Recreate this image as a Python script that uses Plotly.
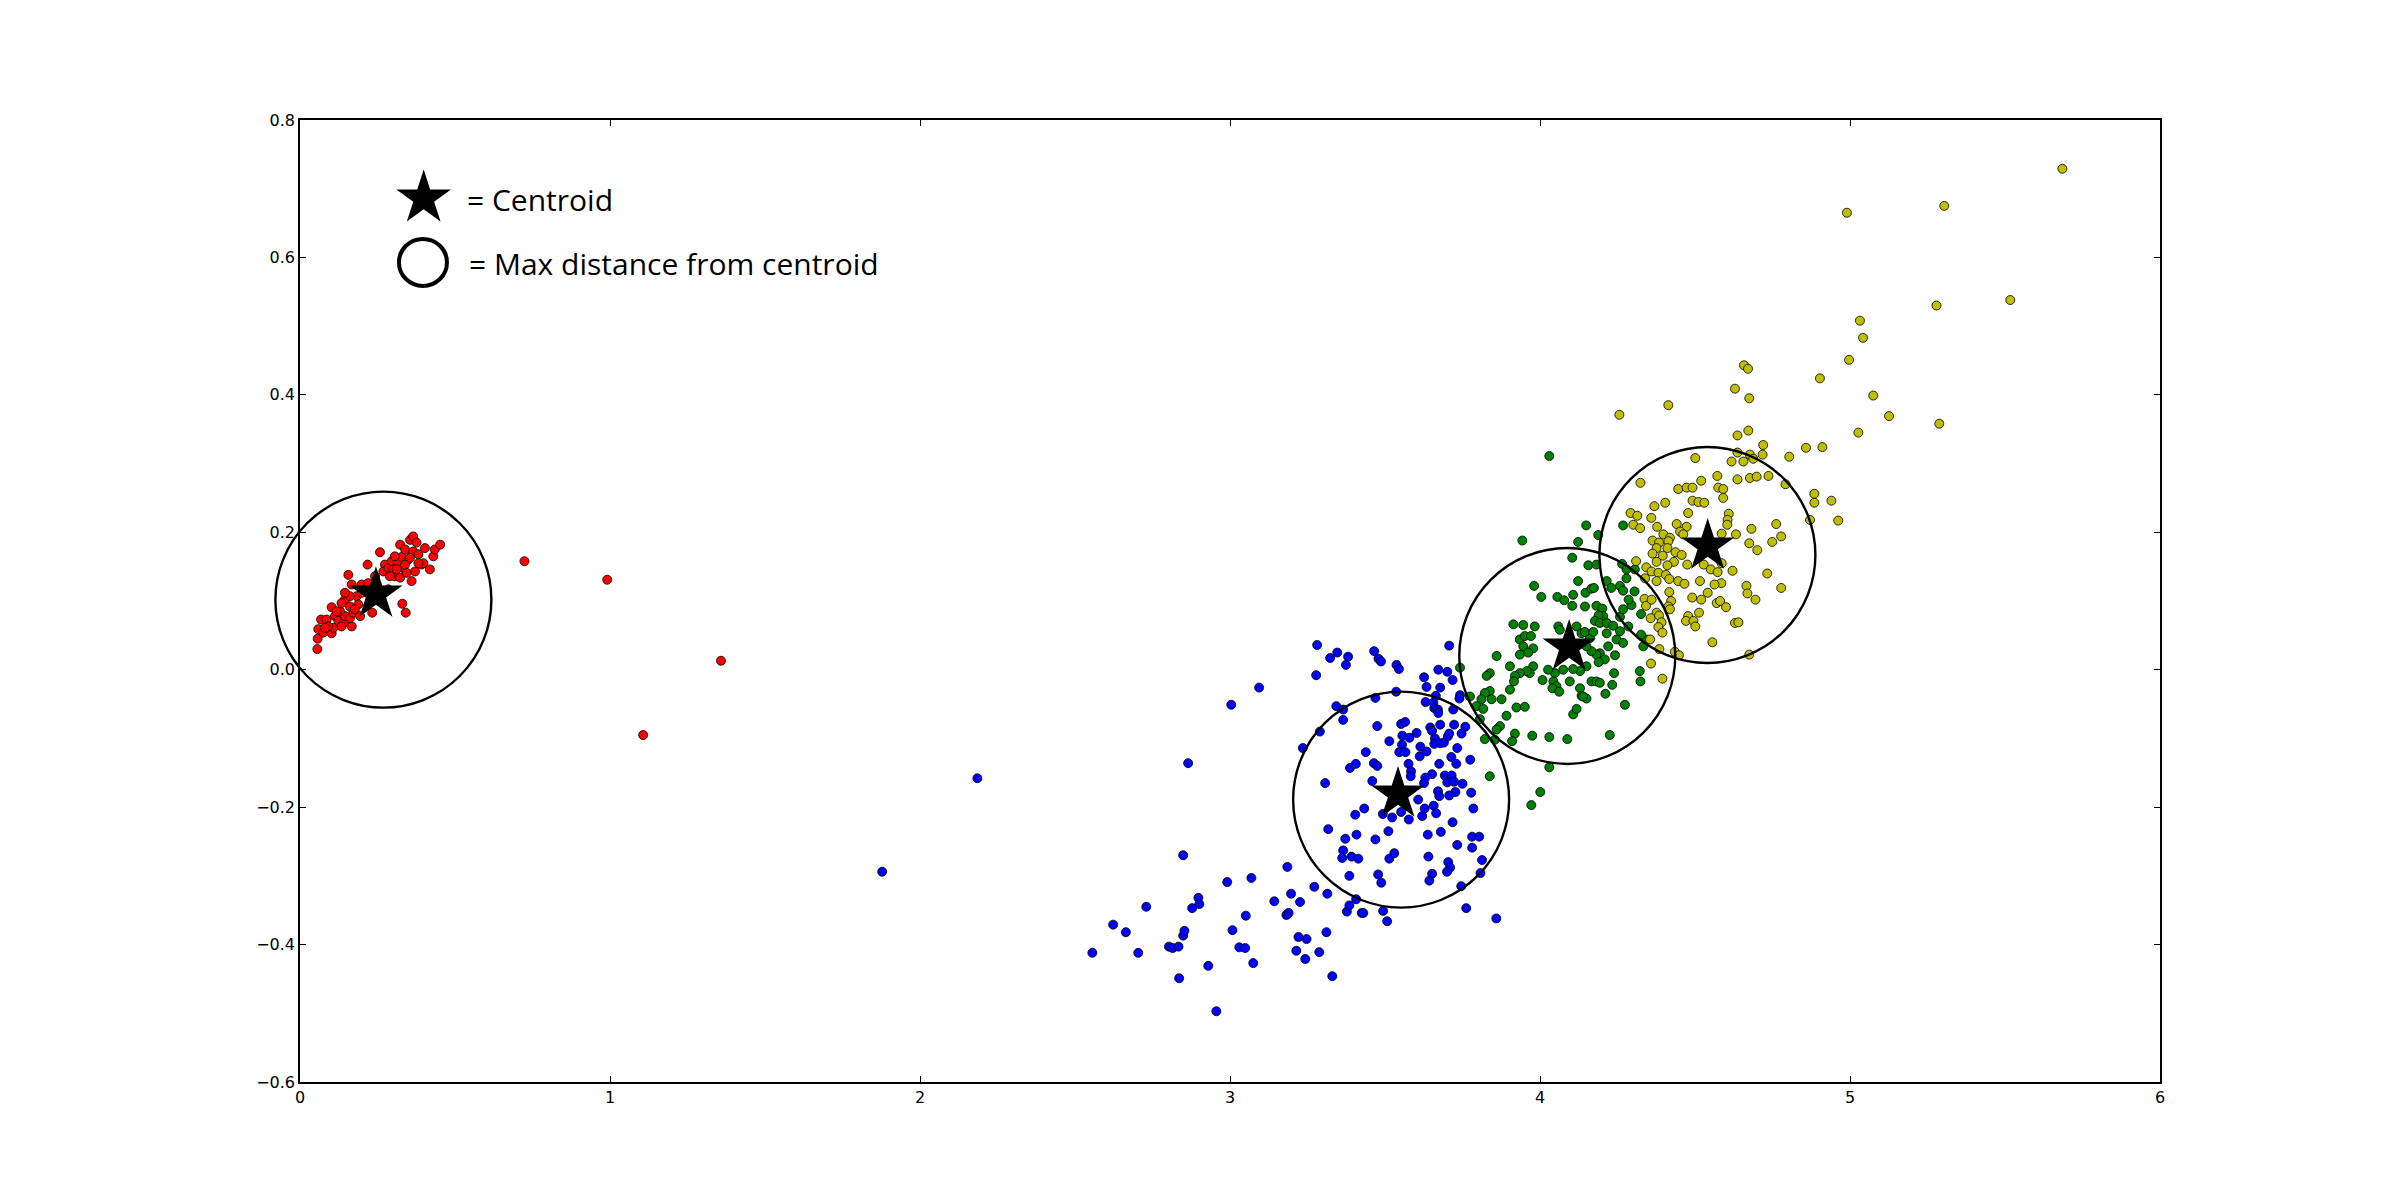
import plotly.graph_objects as go

# ---------------- data ----------------
red_xy = [
    (0.056, 0.030), (0.057, 0.045), (0.059, 0.059), (0.075, 0.054), (0.068, 0.073), (0.086, 0.073),
    (0.102, 0.053), (0.108, 0.061), (0.091, 0.063), (0.102, 0.091), (0.113, 0.078), (0.124, 0.071),
    (0.140, 0.068), (0.145, 0.078), (0.129, 0.085), (0.167, 0.063), (0.161, 0.075), (0.172, 0.083),
    (0.151, 0.109), (0.145, 0.102), (0.161, 0.092), (0.156, 0.138), (0.167, 0.124), (0.183, 0.107),
    (0.188, 0.095), (0.194, 0.078), (0.199, 0.124), (0.218, 0.153), (0.210, 0.117), (0.233, 0.083),
    (0.258, 0.171), (0.274, 0.153), (0.269, 0.143), (0.285, 0.148), (0.296, 0.158), (0.306, 0.136),
    (0.323, 0.134), (0.317, 0.155), (0.328, 0.164), (0.323, 0.182), (0.330, 0.096), (0.341, 0.083),
    (0.339, 0.175), (0.349, 0.160), (0.355, 0.189), (0.365, 0.194), (0.376, 0.185), (0.360, 0.129),
    (0.371, 0.143), (0.365, 0.172), (0.382, 0.168), (0.392, 0.153), (0.398, 0.155), (0.403, 0.177),
    (0.419, 0.146), (0.430, 0.165), (0.435, 0.175), (0.452, 0.182), (0.333, 0.148), (0.344, 0.141),
    (0.301, 0.146), (0.242, 0.136), (0.220, 0.126), (0.161, 0.107), (0.145, 0.112), (0.177, 0.088),
    (0.134, 0.063), (0.081, 0.061), (0.382, 0.155), (0.355, 0.163), (0.339, 0.153), (0.306, 0.165),
    (0.290, 0.136), (0.312, 0.146), (0.269, 0.114), (0.285, 0.117), (0.199, 0.112), (0.134, 0.097),
    (0.118, 0.085),
    (0.724, 0.158), (0.991, 0.131), (1.358, 0.013), (1.107, -0.095),
]

blue_xy = [
    (1.878, -0.294), (2.185, -0.158), (2.556, -0.412), (2.623, -0.371), (2.664, -0.382), (2.704, -0.412),
    (2.730, -0.345), (2.803, -0.403), (2.815, -0.405), (2.834, -0.403), (2.836, -0.449), (2.849, -0.270),
    (2.849, -0.387), (2.853, -0.380), (2.865, -0.136), (2.878, -0.347), (2.898, -0.332), (2.901, -0.341),
    (2.930, -0.431), (2.956, -0.497), (2.991, -0.309), (3.004, -0.051), (3.008, -0.379), (3.030, -0.404),
    (3.049, -0.405), (3.051, -0.358), (3.069, -0.303), (3.075, -0.427), (3.094, -0.026), (3.143, -0.337),
    (3.182, -0.357), (3.189, -0.354), (3.185, -0.287), (3.197, -0.326), (3.214, -0.409), (3.221, -0.389),
    (3.226, -0.338), (3.243, -0.421), (3.247, -0.392), (3.272, -0.316), (3.278, -0.008), (3.288, -0.411),
    (3.290, -0.090), (3.307, -0.165), (3.311, -0.382), (3.235, -0.114), (3.281, 0.036), (3.314, -0.326),
    (3.317, -0.232), (3.323, 0.017), (3.330, -0.446), (3.343, -0.053), (3.346, 0.025), (3.365, -0.058),
    (3.365, -0.073), (3.374, 0.007), (3.381, 0.019), (3.372, -0.246), (3.365, -0.263), (3.362, -0.274),
    (3.385, -0.300), (3.392, -0.272), (3.408, -0.240), (3.414, -0.275), (3.404, -0.211), (3.377, -0.352),
    (3.385, -0.343), (3.407, -0.334), (3.425, -0.354), (3.430, -0.354), (3.387, -0.143), (3.406, -0.137),
    (3.438, -0.120), (3.459, -0.162), (3.464, -0.136), (3.475, -0.140), (3.469, -0.247), (3.433, -0.202),
    (3.465, 0.027), (3.479, 0.016), (3.487, 0.012), (3.469, -0.041), (3.475, -0.082), (3.478, -0.298),
    (3.488, -0.310), (3.494, -0.351), (3.507, -0.366), (3.511, -0.235), (3.514, -0.275), (3.530, -0.267),
    (3.523, -0.215), (3.514, -0.104), (3.493, -0.210), (3.537, 0.007), (3.545, 0.001), (3.536, -0.032),
    (3.552, -0.079), (3.565, -0.076), (3.556, -0.096), (3.579, -0.099), (3.555, -0.109), (3.546, -0.120),
    (3.566, -0.120), (3.602, -0.092), (3.576, -0.137), (3.584, -0.148), (3.583, -0.155), (3.612, -0.126),
    (3.614, -0.112), (3.634, -0.119), (3.552, -0.207), (3.577, -0.218), (3.607, -0.189), (3.628, -0.202),
    (3.620, -0.213), (3.657, -0.198), (3.665, -0.209), (3.718, -0.222), (3.626, -0.011), (3.634, -0.025),
    (3.631, -0.047), (3.656, -0.048), (3.659, -0.056), (3.671, -0.058), (3.672, -0.063), (3.664, -0.038),
    (3.678, -0.026), (3.672, -0.000), (3.701, -0.003), (3.718, -0.015), (3.707, 0.035), (3.646, -0.084),
    (3.652, -0.089), (3.678, -0.080), (3.661, -0.100), (3.659, -0.108), (3.678, -0.107), (3.690, -0.106),
    (3.703, -0.097), (3.707, -0.093), (3.720, -0.058), (3.723, -0.080), (3.747, -0.093), (3.759, -0.083),
    (3.733, -0.114), (3.714, -0.127), (3.730, -0.137), (3.675, -0.137), (3.652, -0.152), (3.630, -0.157),
    (3.626, -0.165), (3.693, -0.154), (3.715, -0.154), (3.701, -0.164), (3.723, -0.163), (3.750, -0.166),
    (3.775, -0.131), (3.727, -0.178), (3.707, -0.183), (3.671, -0.177), (3.675, -0.184), (3.638, -0.240),
    (3.680, -0.236), (3.640, -0.272), (3.733, -0.255), (3.781, -0.243), (3.804, -0.243), (3.781, -0.259),
    (3.813, -0.277), (3.808, -0.296), (3.704, -0.280), (3.710, -0.288), (3.700, -0.294), (3.652, -0.297),
    (3.643, -0.307), (3.746, -0.315), (3.762, -0.347), (3.859, -0.362), (3.778, -0.179), (3.785, -0.202),
    (3.742, -0.037), (3.740, -0.042),
]

green_xy = [
    (3.943, 0.188), (4.123, 0.186), (4.149, 0.210), (4.188, 0.196), (4.268, 0.210), (4.104, 0.163),
    (4.156, 0.152), (4.182, 0.153), (4.123, 0.129), (3.981, 0.122), (4.004, 0.106), (4.056, 0.106),
    (4.078, 0.101), (4.107, 0.109), (4.147, 0.112), (4.166, 0.118), (4.174, 0.119), (4.215, 0.129),
    (4.230, 0.119), (4.258, 0.122), (4.268, 0.115), (4.279, 0.133), (4.305, 0.114), (4.265, 0.154),
    (4.279, 0.146), (4.306, 0.146), (4.104, 0.093), (4.145, 0.092), (4.182, 0.093), (4.201, 0.089),
    (4.204, 0.078), (4.189, 0.079), (4.177, 0.071), (4.193, 0.068), (4.215, 0.068), (4.236, 0.064),
    (4.258, 0.077), (4.268, 0.088), (4.295, 0.094), (4.286, 0.102), (4.326, 0.081), (3.914, 0.066),
    (3.946, 0.065), (3.983, 0.063), (3.935, 0.044), (3.951, 0.049), (3.971, 0.049), (3.946, 0.034),
    (3.978, 0.031), (3.935, 0.022), (3.962, 0.025), (3.860, 0.020), (4.059, 0.063), (4.064, 0.058),
    (4.118, 0.063), (4.134, 0.053), (4.161, 0.046), (4.145, 0.055), (4.172, 0.055), (4.215, 0.053),
    (4.258, 0.056), (4.285, 0.063), (4.247, 0.044), (4.268, 0.039), (4.220, 0.034), (4.193, 0.024),
    (4.209, 0.015), (4.182, 0.022), (4.166, 0.027), (4.150, 0.034), (4.242, 0.021), (4.189, 0.011),
    (4.150, 0.005), (4.129, -0.002), (4.107, 0.001), (4.075, -0.000), (4.048, -0.005), (4.026, 0.000),
    (3.978, 0.005), (3.967, -0.005), (3.957, -0.002), (3.935, -0.005), (3.919, -0.009), (3.916, -0.017),
    (3.903, 0.005), (3.838, -0.005), (3.828, -0.009), (3.742, 0.003), (4.008, -0.015), (4.043, -0.017),
    (4.053, -0.024), (4.040, -0.027), (4.062, -0.032), (4.096, -0.017), (4.129, -0.027), (4.134, -0.038),
    (4.150, -0.042), (4.166, -0.017), (4.182, -0.017), (4.193, -0.019), (4.211, -0.035), (4.239, -0.005),
    (4.233, -0.022), (4.274, -0.051), (4.225, -0.095), (4.322, -0.002), (4.324, -0.017), (4.333, 0.034),
    (4.344, 0.044), (4.326, 0.051), (3.838, -0.031), (3.822, -0.034), (3.811, -0.043), (3.774, -0.039),
    (3.795, -0.053), (3.817, -0.057), (3.844, -0.043), (3.876, -0.043), (3.903, -0.029), (3.924, -0.055),
    (3.951, -0.054), (3.892, -0.067), (3.806, -0.072), (3.871, -0.082), (3.860, -0.087), (3.919, -0.093),
    (3.910, -0.104), (3.822, -0.101), (3.854, -0.102), (3.975, -0.096), (4.030, -0.098), (4.088, -0.101),
    (4.107, -0.065), (4.118, -0.057), (4.139, -0.039), (3.838, -0.155), (4.030, -0.142), (4.001, -0.178),
    (3.972, -0.197), (4.030, 0.311),
]

yellow_xy = [
    (4.256, 0.371), (4.414, 0.385), (4.629, 0.409), (4.675, 0.395), (4.658, 0.443), (4.671, 0.438),
    (4.903, 0.424), (4.997, 0.451), (5.032, 0.508), (5.042, 0.483), (5.075, 0.399), (5.126, 0.369),
    (5.685, 0.729), (5.304, 0.675), (4.990, 0.665), (5.279, 0.530), (5.517, 0.538), (5.027, 0.345),
    (5.288, 0.358),
    (4.637, 0.341), (4.672, 0.348), (4.720, 0.327), (4.718, 0.313), (4.804, 0.310), (4.858, 0.323),
    (4.911, 0.324), (4.501, 0.308), (4.618, 0.303), (4.656, 0.303), (4.637, 0.316), (4.677, 0.313),
    (4.688, 0.307), (4.324, 0.272), (4.520, 0.275), (4.572, 0.282), (4.637, 0.277), (4.677, 0.279),
    (4.699, 0.281), (4.737, 0.282), (4.792, 0.270), (4.446, 0.263), (4.473, 0.265), (4.492, 0.265),
    (4.575, 0.265), (4.591, 0.263), (4.591, 0.250), (4.885, 0.256), (4.885, 0.243), (4.940, 0.246),
    (4.962, 0.217), (4.871, 0.218), (4.292, 0.228), (4.314, 0.224), (4.369, 0.238), (4.404, 0.243),
    (4.359, 0.221), (4.378, 0.208), (4.478, 0.228), (4.492, 0.246), (4.511, 0.244), (4.530, 0.243),
    (4.609, 0.227), (4.605, 0.218), (4.604, 0.211), (4.682, 0.205), (4.762, 0.212), (4.749, 0.186),
    (4.778, 0.194), (4.675, 0.184), (4.701, 0.174), (4.632, 0.197), (4.301, 0.211), (4.323, 0.206),
    (4.441, 0.212), (4.473, 0.208), (4.452, 0.201), (4.462, 0.197), (4.398, 0.197), (4.419, 0.192),
    (4.363, 0.188), (4.384, 0.185), (4.414, 0.187), (4.411, 0.177), (4.376, 0.177), (4.363, 0.169),
    (4.396, 0.166), (4.437, 0.171), (4.457, 0.167), (4.432, 0.157), (4.411, 0.152), (4.376, 0.157),
    (4.475, 0.153), (4.310, 0.158), (4.343, 0.149), (4.360, 0.143), (4.382, 0.141), (4.406, 0.138),
    (4.376, 0.129), (4.339, 0.133), (4.417, 0.132), (4.446, 0.129), (4.466, 0.125), (4.516, 0.129),
    (4.528, 0.153), (4.551, 0.146), (4.573, 0.142), (4.586, 0.198), (4.586, 0.155), (4.621, 0.144),
    (4.585, 0.126), (4.563, 0.124), (4.666, 0.122), (4.669, 0.111), (4.695, 0.102), (4.733, 0.140),
    (4.778, 0.119), (4.417, 0.113), (4.423, 0.100), (4.414, 0.092), (4.337, 0.103), (4.342, 0.093),
    (4.360, 0.102), (4.376, 0.083), (4.357, 0.075), (4.384, 0.079), (4.392, 0.069), (4.419, 0.088),
    (4.491, 0.105), (4.520, 0.102), (4.541, 0.112), (4.570, 0.097), (4.581, 0.100), (4.600, 0.091),
    (4.513, 0.083), (4.478, 0.078), (4.471, 0.071), (4.495, 0.071), (4.501, 0.063), (4.629, 0.068),
    (4.640, 0.069), (4.382, 0.062), (4.395, 0.054), (4.355, 0.044), (4.385, 0.030), (4.435, 0.026),
    (4.448, 0.021), (4.556, 0.040), (4.675, 0.022), (4.358, 0.009), (4.395, -0.013),
]

# centroids (stars) and centres of the max-distance circles
centroid_x = [0.245, 3.542, 4.094, 4.541]
centroid_y = [0.110, -0.181, 0.033, 0.180]
circle_x = [0.269, 3.552, 4.088, 4.540]
circle_y = [0.102, -0.189, 0.020, 0.167]

x_ticks = [0, 1, 2, 3, 4, 5, 6]
x_tick_labels = ["0", "1", "2", "3", "4", "5", "6"]
y_ticks = [-0.6, -0.4, -0.2, 0.0, 0.2, 0.4, 0.6, 0.8]
y_tick_labels = ["\u22120.6", "\u22120.4", "\u22120.2", "0.0", "0.2", "0.4", "0.6", "0.8"]

legend_labels = ["= Centroid", "= Max distance from centroid"]

clusters = [
    ("red", red_xy, "#ff0000"),
    ("blue", blue_xy, "#0000ff"),
    ("green", green_xy, "#008000"),
    ("yellow", yellow_xy, "#bfbf00"),
]

# ---------------- figure ----------------
fig = go.Figure()

for name, pts, col in clusters:
    xs = [p[0] for p in pts]
    ys = [p[1] for p in pts]
    fig.add_trace(go.Scatter(
        x=xs, y=ys, mode="markers", name=name, showlegend=False,
        marker=dict(size=9, color=col, line=dict(color="black", width=0.8)),
        hoverinfo="x+y",
    ))

# max-distance circles
fig.add_trace(go.Scatter(
    x=circle_x, y=circle_y, mode="markers", showlegend=False, cliponaxis=False,
    marker=dict(symbol="circle-open", size=216, color="black", line=dict(width=2.4)),
    hoverinfo="skip",
))

# centroids
fig.add_trace(go.Scatter(
    x=centroid_x, y=centroid_y, mode="markers", showlegend=False, cliponaxis=False,
    marker=dict(symbol="star", size=40, color="black", line=dict(width=0)),
    hoverinfo="x+y",
))

# key: star glyph drawn on an invisible overlay axis (0..1 range over the plot area)
fig.add_trace(go.Scatter(
    x=[0.0665], y=[0.9186], xaxis="x2", yaxis="y2", mode="markers",
    showlegend=False, cliponaxis=False,
    marker=dict(symbol="star", size=41, color="black", line=dict(width=0)),
    hoverinfo="skip",
))

# key: open circle
fig.add_shape(
    type="circle", xref="paper", yref="paper",
    xsizemode="pixel", ysizemode="pixel",
    xanchor=0.0661, yanchor=0.852,
    x0=-24, x1=24, y0=-23.5, y1=23.5,
    line=dict(color="black", width=4),
)

text_font = dict(family="Open Sans, Lato, sans-serif", size=30, color="black")
fig.add_annotation(
    xref="paper", yref="paper", x=0.0887, y=0.9173, xanchor="left", yanchor="middle",
    text=legend_labels[0], showarrow=False, font=text_font,
)
fig.add_annotation(
    xref="paper", yref="paper", x=0.0898, y=0.8507, xanchor="left", yanchor="middle",
    text=legend_labels[1], showarrow=False, font=text_font,
)

tick_font = dict(family="DejaVu Sans", size=16, color="black")
axis_common = dict(
    showgrid=False, zeroline=False, showline=True, linecolor="black", linewidth=1.5,
    mirror="ticks", ticks="inside", ticklen=6, tickwidth=1, tickcolor="black",
    tickfont=tick_font,
)

fig.update_layout(
    width=2400, height=1203,
    margin=dict(l=300, r=240, t=120, b=121, pad=0),
    paper_bgcolor="white", plot_bgcolor="white",
    xaxis=dict(range=[0, 6], tickmode="array", tickvals=x_ticks, ticktext=x_tick_labels, **axis_common),
    yaxis=dict(range=[-0.6, 0.8], tickmode="array", tickvals=y_ticks, ticktext=y_tick_labels, **axis_common),
    xaxis2=dict(range=[0, 1], overlaying="x", visible=False, fixedrange=True),
    yaxis2=dict(range=[0, 1], overlaying="y", visible=False, fixedrange=True),
    showlegend=False,
)

fig.write_html("out.html")
